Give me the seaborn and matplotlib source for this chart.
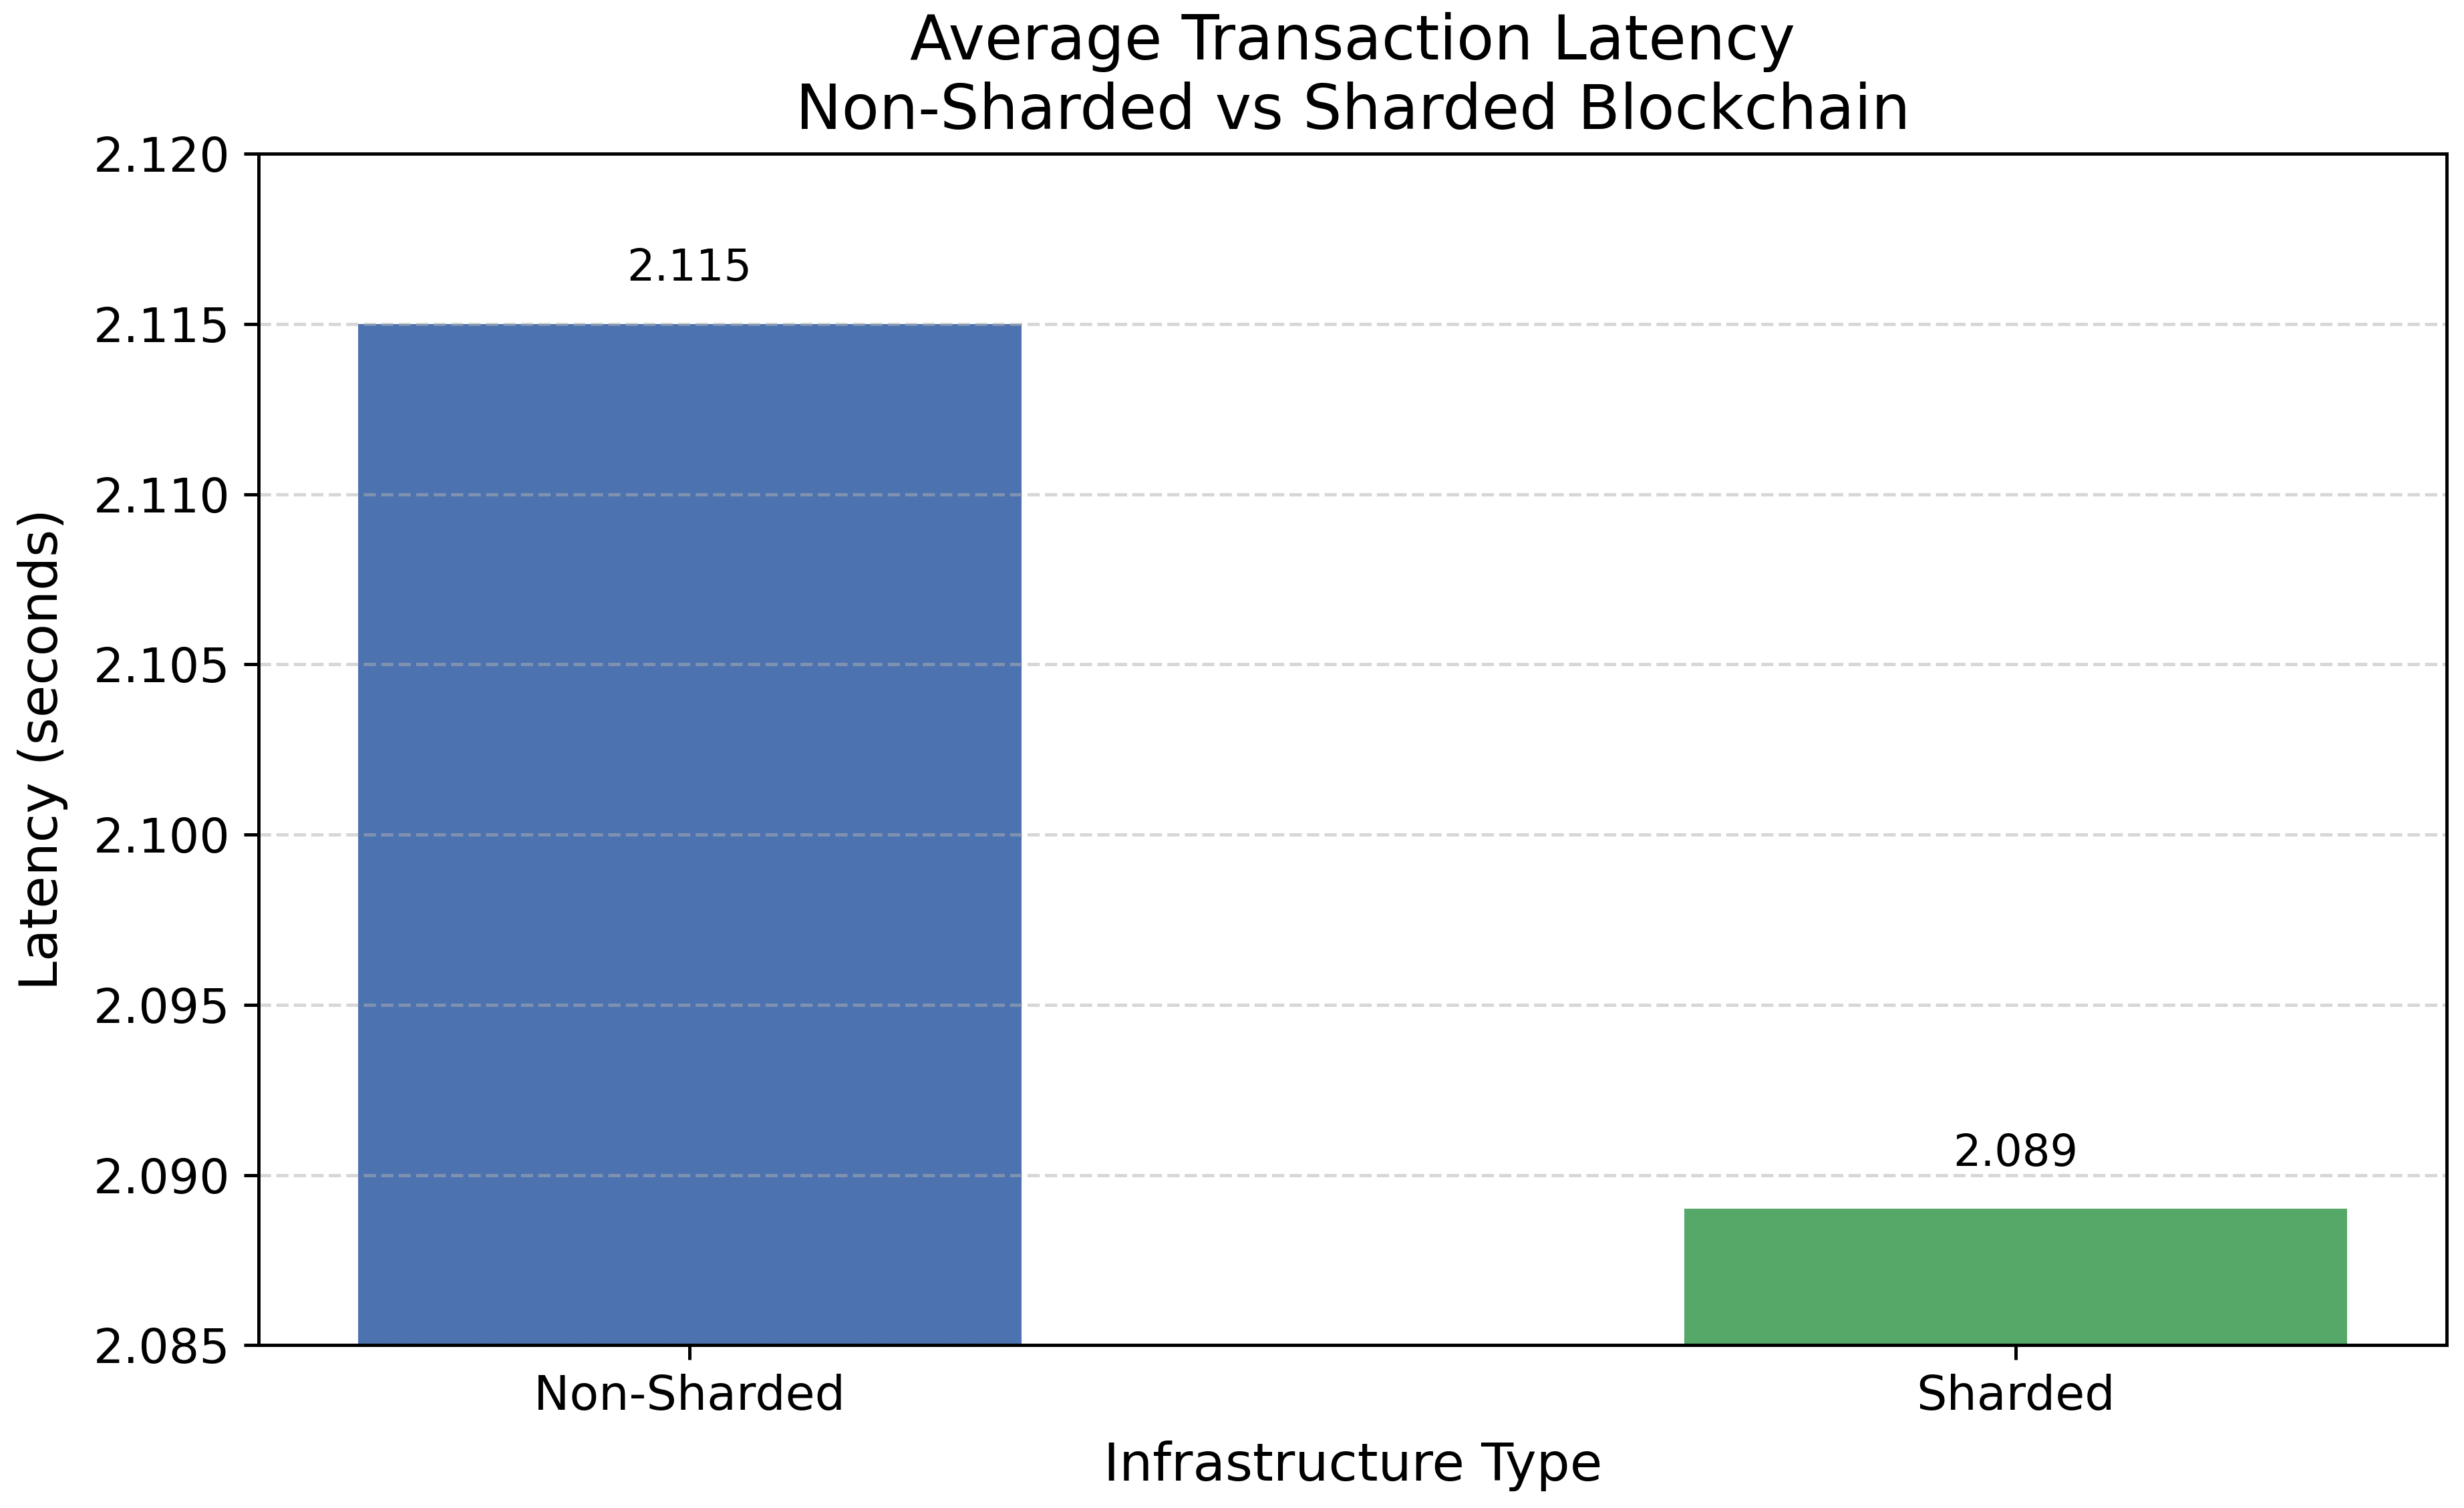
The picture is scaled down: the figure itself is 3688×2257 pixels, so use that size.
import seaborn as sns
import matplotlib.pyplot as plt
import pandas as pd
from matplotlib.ticker import FormatStrFormatter

infra_types = ["Non-Sharded", "Sharded"]
avg_latency = [2.115, 2.089]
bar_colors = ["#4C72B0", "#55A868"]

df = pd.DataFrame({"Infrastructure Type": infra_types, "Latency": avg_latency})

dpi = 444
fig, ax = plt.subplots(figsize=(3688 / dpi, 2257 / dpi), dpi=dpi)

sns.barplot(data=df, x="Infrastructure Type", y="Latency", hue="Infrastructure Type",
            palette=bar_colors, width=0.5, saturation=1, legend=False, ax=ax)

ax.set_xlim(-0.325, 1.325)
ax.set_ylim(2.085, 2.120)
ax.set_yticks([2.085, 2.090, 2.095, 2.100, 2.105, 2.110, 2.115, 2.120])
ax.yaxis.set_major_formatter(FormatStrFormatter('%.3f'))
ax.tick_params(axis='both', labelsize=11.6)
ax.grid(axis='y', linestyle='--', alpha=0.5)

for i, v in enumerate(avg_latency):
    ax.text(i, v + 0.001, f"{v:.3f}", ha='center', va='bottom', fontsize=10.6)

ax.set_title("Average Transaction Latency\nNon-Sharded vs Sharded Blockchain", fontsize=14.9)
ax.set_xlabel("Infrastructure Type", fontsize=12.8, labelpad=5)
ax.set_ylabel("Latency (seconds)", fontsize=12.8, labelpad=6)

plt.subplots_adjust(left=0.105, right=0.993, top=0.898, bottom=0.108)
fig.savefig("out.png", dpi=dpi)
